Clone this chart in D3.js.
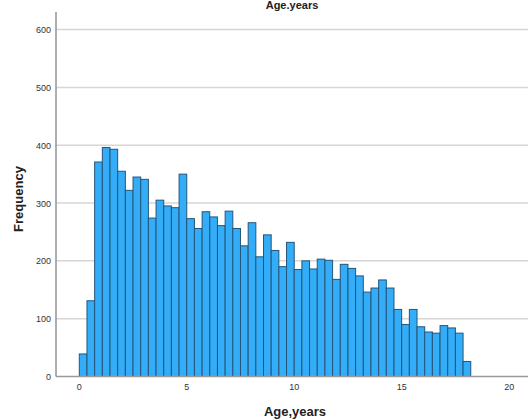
<!DOCTYPE html>
<html><head><meta charset="utf-8">
<script src="https://cdn.jsdelivr.net/npm/d3@7"></script>
<style>body{margin:0;background:#fff}svg{display:block}</style>
</head><body>
<svg id="c" width="528" height="419"></svg>
<script>
const binStart = 0;
const binWidth = 0.357;
const counts = [39,131,371,396,393,355,322,345,341,274,305,295,292,350,273,256,285,276,261,286,256,226,266,207,245,218,190,232,185,200,186,203,201,168,194,187,174,146,153,167,153,116,90,116,86,77,75,88,84,75,26];
const yTicks = [0,100,200,300,400,500,600];
const xTicks = [0,5,10,15,20];
const title = "Age.years";
const xLabel = "Age,years";
const yLabel = "Frequency";

const svg = d3.select("#c");
const x = d3.scaleLinear().domain([0,20]).range([79.3,509.3]);
const y = d3.scaleLinear().domain([0,600]).range([376.5,29.6]);
const left = 56, right = 528;

svg.append("g").selectAll("line").data(yTicks.filter(d=>d>0)).join("line")
  .attr("x1",left).attr("x2",right).attr("y1",d=>y(d)).attr("y2",d=>y(d))
  .attr("stroke","#d6d6d6").attr("stroke-width",1.5);

const bins = counts.map((c,i)=>({x0:binStart+i*binWidth,x1:binStart+(i+1)*binWidth,c}));
svg.append("g").selectAll("rect").data(bins).join("rect")
  .attr("x",d=>x(d.x0)).attr("width",d=>x(d.x1)-x(d.x0))
  .attr("y",d=>y(d.c)).attr("height",d=>y(0)-y(d.c))
  .attr("fill","#33adf7").attr("stroke","#26557a").attr("stroke-width",1);

svg.append("line").attr("x1",left).attr("x2",left).attr("y1",12).attr("y2",y(0))
  .attr("stroke","#9a9a9a").attr("stroke-width",1.6);
svg.append("line").attr("x1",left).attr("x2",right).attr("y1",y(0)).attr("y2",y(0))
  .attr("stroke","#9a9a9a").attr("stroke-width",1.6);

svg.append("g").selectAll("text").data(yTicks).join("text")
  .attr("x",51).attr("y",d=>y(d)+3.5).attr("text-anchor","end")
  .attr("font-family","Liberation Sans, Arial, sans-serif").attr("font-size",9).attr("fill","#333")
  .text(d=>d);
svg.append("g").selectAll("text").data(xTicks).join("text")
  .attr("x",d=>x(d)).attr("y",390).attr("text-anchor","middle")
  .attr("font-family","Liberation Sans, Arial, sans-serif").attr("font-size",9).attr("fill","#333")
  .text(d=>d);

svg.append("text").attr("x",292).attr("y",9).attr("text-anchor","middle")
  .attr("font-family","Liberation Sans, Arial, sans-serif").attr("font-weight","bold").attr("font-size",11).attr("fill","#222")
  .text(title);
svg.append("text").attr("x",295).attr("y",416).attr("text-anchor","middle")
  .attr("font-family","Liberation Sans, Arial, sans-serif").attr("font-weight","bold").attr("font-size",13).attr("fill","#222")
  .text(xLabel);
svg.append("text").attr("transform","translate(23,199) rotate(-90)").attr("text-anchor","middle")
  .attr("font-family","Liberation Sans, Arial, sans-serif").attr("font-weight","bold").attr("font-size",13).attr("fill","#222")
  .text(yLabel);
</script>
</body></html>
